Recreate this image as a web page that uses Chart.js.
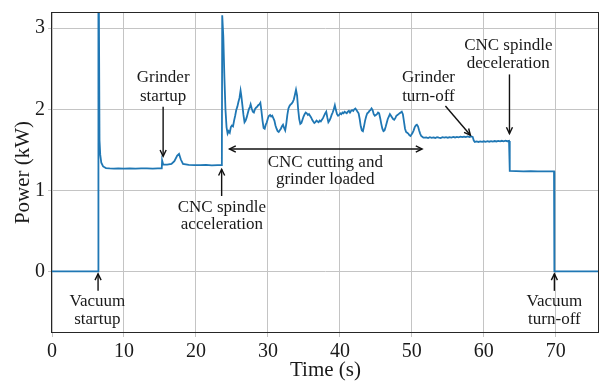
<!DOCTYPE html>
<html><head><meta charset="utf-8">
<script src="https://cdn.jsdelivr.net/npm/chart.js@4.4.1/dist/chart.umd.min.js"></script>
<style>html,body{margin:0;padding:0;background:#fff}#wrap{width:600px;height:381px;position:relative}</style>
</head><body><div id="wrap"><canvas id="c" width="600" height="381"></canvas></div>
<script>
// ---- data: [time (s), power (kW)] ----
const idleAndStartup = [
 [0,0],[6.42,0],[6.45,4.5],[6.6,1.62],[6.7,1.44],[6.85,1.34],[7.1,1.295],[7.5,1.275],[8.0,1.27],[8.6,1.268],
 [9.2,1.271],[10,1.269],[10.8,1.272],[11.6,1.268],[12.4,1.27],[13.2,1.271],[14,1.268],[14.7,1.27],[15.25,1.27],
 [15.3,1.37],[15.45,1.32],[16.0,1.318],[16.6,1.325],[17.0,1.36],[17.4,1.43],[17.65,1.45],[17.9,1.38],[18.2,1.325],
 [19,1.315],[19.8,1.312],[20.6,1.31],[21.4,1.313],[22.2,1.309],[23.0,1.311],[23.6,1.31],
 [23.65,3.16],[23.8,2.9],[23.95,2.4],[24.1,2.0],[24.25,1.78]
];
const cuttingPhase = [
 [24.4,1.70],[24.55,1.73],[24.7,1.71],[24.85,1.78],[25.0,1.80],[25.15,1.79],[25.3,1.86],[25.45,1.92],[25.6,1.99],[25.75,2.03],
 [25.9,2.09],[26.05,2.14],[26.2,2.23],[26.3,2.17],[26.45,2.05],[26.6,1.93],[26.75,1.84],[26.9,1.86],[27.05,1.90],[27.2,1.95],
 [27.35,2.00],[27.5,2.03],[27.6,2.06],[27.75,2.01],[27.9,1.97],[28.05,1.96],[28.2,2.00],[28.35,2.02],[28.5,2.03],[28.65,2.05],
 [28.8,2.06],[28.95,2.08],[29.1,1.98],[29.25,1.86],[29.4,1.77],[29.55,1.76],[29.7,1.81],[29.85,1.84],[30.0,1.89],[30.15,1.92],
 [30.3,1.93],[30.45,1.91],[30.6,1.92],[30.75,1.89],[30.9,1.86],[31.05,1.80],[31.2,1.76],[31.35,1.73],[31.5,1.72],[31.65,1.74],
 [31.8,1.76],[31.95,1.79],[32.1,1.81],[32.25,1.77],[32.4,1.74],[32.55,1.82],[32.7,1.93],[32.85,2.01],[33.0,2.04],[33.15,2.06],
 [33.3,2.07],[33.45,2.09],[33.6,2.12],[33.75,2.18],[33.9,2.24],[34.05,2.17],[34.2,2.00],[34.35,1.88],[34.5,1.82],[34.65,1.83],
 [34.8,1.87],[34.95,1.91],[35.1,1.94],[35.25,1.96],[35.4,1.95],[35.55,1.93],[35.7,1.94],[35.85,1.92],[36.0,1.90],[36.15,1.87],
 [36.3,1.85],[36.45,1.83],[36.6,1.84],[36.75,1.86],[36.9,1.85],[37.05,1.84],[37.2,1.86],[37.35,1.85],[37.5,1.87],[37.65,1.89],
 [37.8,1.92],[37.95,1.95],[38.1,1.97],[38.25,1.90],[38.4,1.84],[38.55,1.86],[38.7,1.89],[38.85,1.93],[39.0,1.96],[39.15,2.00],
 [39.3,2.05],[39.45,1.99],[39.6,1.94],[39.75,1.92],[39.9,1.93],[40.05,1.95],[40.2,1.94],[40.35,1.96],[40.5,1.95],[40.65,1.97],
 [40.8,1.96],[40.95,1.95],[41.1,1.97],[41.25,1.98],[41.4,1.96],[41.55,1.98],[41.7,1.99],[41.85,1.98],[42.0,2.00],[42.15,2.01],
 [42.3,1.99],[42.45,1.97],[42.6,1.95],[42.75,1.88],[42.9,1.79],[43.05,1.74],[43.2,1.73],[43.35,1.79],[43.5,1.86],[43.65,1.91],
 [43.8,1.95],[43.95,1.96],[44.1,1.98],[44.25,1.99],[44.4,2.01],[44.55,1.99],[44.7,1.94],[44.85,1.92],[45.0,1.93],[45.15,1.94],
 [45.3,1.96],[45.45,1.95],[45.6,1.89],[45.75,1.82],[45.9,1.76],[46.05,1.73],[46.2,1.74],[46.35,1.78],[46.5,1.83],[46.65,1.88],
 [46.8,1.91],[46.95,1.94],[47.1,1.92],[47.25,1.90],[47.4,1.88],[47.55,1.87],[47.7,1.89],[47.85,1.92],[48.0,1.93],[48.15,1.94],
 [48.3,1.95],[48.45,1.96],[48.6,1.97],[48.75,1.94],[48.9,1.85],[49.05,1.76],[49.2,1.72],[49.35,1.71],[49.5,1.70],[49.65,1.68],
 [49.8,1.67],[49.95,1.69],[50.1,1.71],[50.25,1.74],[50.4,1.78],[50.55,1.80],[50.7,1.81],[50.85,1.79],[51.0,1.74],[51.15,1.70],
 [51.3,1.67],[51.45,1.66],[51.6,1.65],[51.8,1.65]
];
const windDown = [
 [52.0,1.652],[52.25,1.645],[52.5,1.655],[52.75,1.648],[53.0,1.653],[53.25,1.646],[53.5,1.656],[53.75,1.65],[54.0,1.645],[54.25,1.655],
 [54.5,1.65],[54.75,1.657],[55.0,1.649],[55.25,1.656],[55.5,1.651],[55.75,1.659],[56.0,1.652],[56.25,1.66],[56.5,1.654],[56.75,1.662],
 [57.0,1.656],[57.25,1.663],[57.5,1.657],[57.75,1.665],[58.0,1.658],[58.25,1.666],[58.45,1.66],[58.6,1.615],[58.75,1.597],[59.0,1.603],
 [59.25,1.597],[59.5,1.604],[59.75,1.598],[60.0,1.605],[60.25,1.599],[60.5,1.606],[60.75,1.6],[61.0,1.607],[61.25,1.601],[61.5,1.608],
 [61.75,1.603],[62.0,1.61],[62.25,1.604],[62.5,1.611],[62.75,1.605],[63.0,1.612],[63.25,1.606],[63.5,1.61],[63.6,1.24],[64.5,1.237],
 [65.5,1.235],[66.5,1.236],[67.5,1.234],[68.5,1.235],[69.75,1.235],[69.8,0],[72,0],[74,0],[76,0]
];
const xTickValues = [0, 10, 20, 30, 40, 50, 60, 70];
const yTickValues = [0, 1, 2, 3];
const noteTexts = [
 ['Vacuum', 'startup'],
 ['Vacuum', 'turn-off'],
 ['Grinder', 'startup'],
 ['CNC spindle', 'acceleration'],
 ['CNC cutting and', 'grinder loaded'],
 ['Grinder', 'turn-off'],
 ['CNC spindle', 'deceleration']
];
const noteX = [6.3, 69.8, 15.44, 23.6, 37.97, 52.3, 63.4];
const noteY1 = [-0.37, -0.37, 2.39, 0.79, 1.34, 2.39, 2.79];
const noteY2 = [-0.59, -0.59, 2.16, 0.58, 1.13, 2.16, 2.57];
const arrowFromX = [6.4, 69.8, 15.44, 23.57, 24.66, 54.66, 63.56];
const arrowFromY = [-0.24, -0.24, 2.03, 0.93, 1.51, 2.04, 2.43];
const arrowToX   = [6.4, 69.8, 15.44, 23.57, 51.42, 58.14, 63.56];
const arrowToY   = [-0.03, -0.03, 1.42, 1.26, 1.51, 1.68, 1.70];
const arrowBoth  = [false, false, false, false, true, false, false];

const SERIF = '"Liberation Serif", "Times New Roman", serif';

const annotPlugin = {
  id: 'annot',
  afterDatasetsDraw(chart) {
    const {ctx, chartArea: a, scales: {x, y}} = chart;
    ctx.save();
    ctx.strokeStyle = '#262626';
    ctx.lineWidth = 1;
    ctx.strokeRect(Math.round(a.left) - 0.5, Math.round(a.top) + 0.5, Math.round(a.right - a.left), Math.round(a.bottom - a.top) - 1);
    ctx.strokeStyle = '#111';
    ctx.lineWidth = 1.4;
    const head = (px, py, ang) => {
      const L = 7, w = 0.45;
      ctx.beginPath();
      ctx.moveTo(px - L * Math.cos(ang - w), py - L * Math.sin(ang - w));
      ctx.lineTo(px, py);
      ctx.lineTo(px - L * Math.cos(ang + w), py - L * Math.sin(ang + w));
      ctx.stroke();
    };
    for (let i = 0; i < arrowFromX.length; i++) {
      const x0 = x.getPixelForValue(arrowFromX[i]), y0 = y.getPixelForValue(arrowFromY[i]);
      const x1 = x.getPixelForValue(arrowToX[i]), y1 = y.getPixelForValue(arrowToY[i]);
      ctx.beginPath(); ctx.moveTo(x0, y0); ctx.lineTo(x1, y1); ctx.stroke();
      const ang = Math.atan2(y1 - y0, x1 - x0);
      head(x1, y1, ang);
      if (arrowBoth[i]) head(x0, y0, ang + Math.PI);
    }
    ctx.fillStyle = '#1a1a1a';
    ctx.font = '17px ' + SERIF;
    ctx.textAlign = 'center';
    ctx.textBaseline = 'middle';
    for (let i = 0; i < noteTexts.length; i++) {
      const px = x.getPixelForValue(noteX[i]);
      ctx.fillText(noteTexts[i][0], px, y.getPixelForValue(noteY1[i]));
      ctx.fillText(noteTexts[i][1], px, y.getPixelForValue(noteY2[i]));
    }
    ctx.restore();
  }
};

const points = idleAndStartup.concat(cuttingPhase, windDown).map(p => ({x: p[0], y: p[1]}));

new Chart(document.getElementById('c'), {
  type: 'line',
  data: { datasets: [{
    data: points,
    borderColor: '#1f77b4',
    borderWidth: 1.8,
    pointRadius: 0,
    tension: 0,
    fill: false
  }]},
  options: {
    responsive: false,
    animation: false,
    events: [],
    layout: { padding: { top: 12, right: 1, left: 0, bottom: 0 } },
    plugins: { legend: { display: false }, tooltip: { enabled: false } },
    scales: {
      x: {
        type: 'linear', min: 0, max: 76,
        afterBuildTicks: s => { s.ticks = xTickValues.map(v => ({value: v})); },
        afterFit: s => { s.height = 48; s.paddingLeft = 0; s.paddingRight = 0; },
        grid: { color: '#c4c4c4', lineWidth: 1, tickLength: 4, drawTicks: true },
        border: { display: false },
        ticks: { autoSkip: false, maxRotation: 0, padding: 3, color: '#1a1a1a', font: { family: SERIF, size: 20 } },
        title: { display: true, text: 'Time (s)', color: '#1a1a1a', font: { family: SERIF, size: 21, lineHeight: 1.0 }, padding: { top: 0, bottom: 0 } }
      },
      y: {
        type: 'linear', min: -0.76, max: 3.2,
        afterBuildTicks: s => { s.ticks = yTickValues.map(v => ({value: v})); },
        afterFit: s => { s.width = 52; s.paddingTop = 0; s.paddingBottom = 0; },
        grid: { color: '#c4c4c4', lineWidth: 1, tickLength: 4, drawTicks: true },
        border: { display: false },
        ticks: { autoSkip: false, padding: 3, color: '#1a1a1a', font: { family: SERIF, size: 20 } },
        title: { display: true, text: 'Power (kW)', color: '#1a1a1a', font: { family: SERIF, size: 21, lineHeight: 1.0 }, padding: { top: 13, bottom: 0 } }
      }
    }
  },
  plugins: [annotPlugin]
});
</script>
</body></html>
